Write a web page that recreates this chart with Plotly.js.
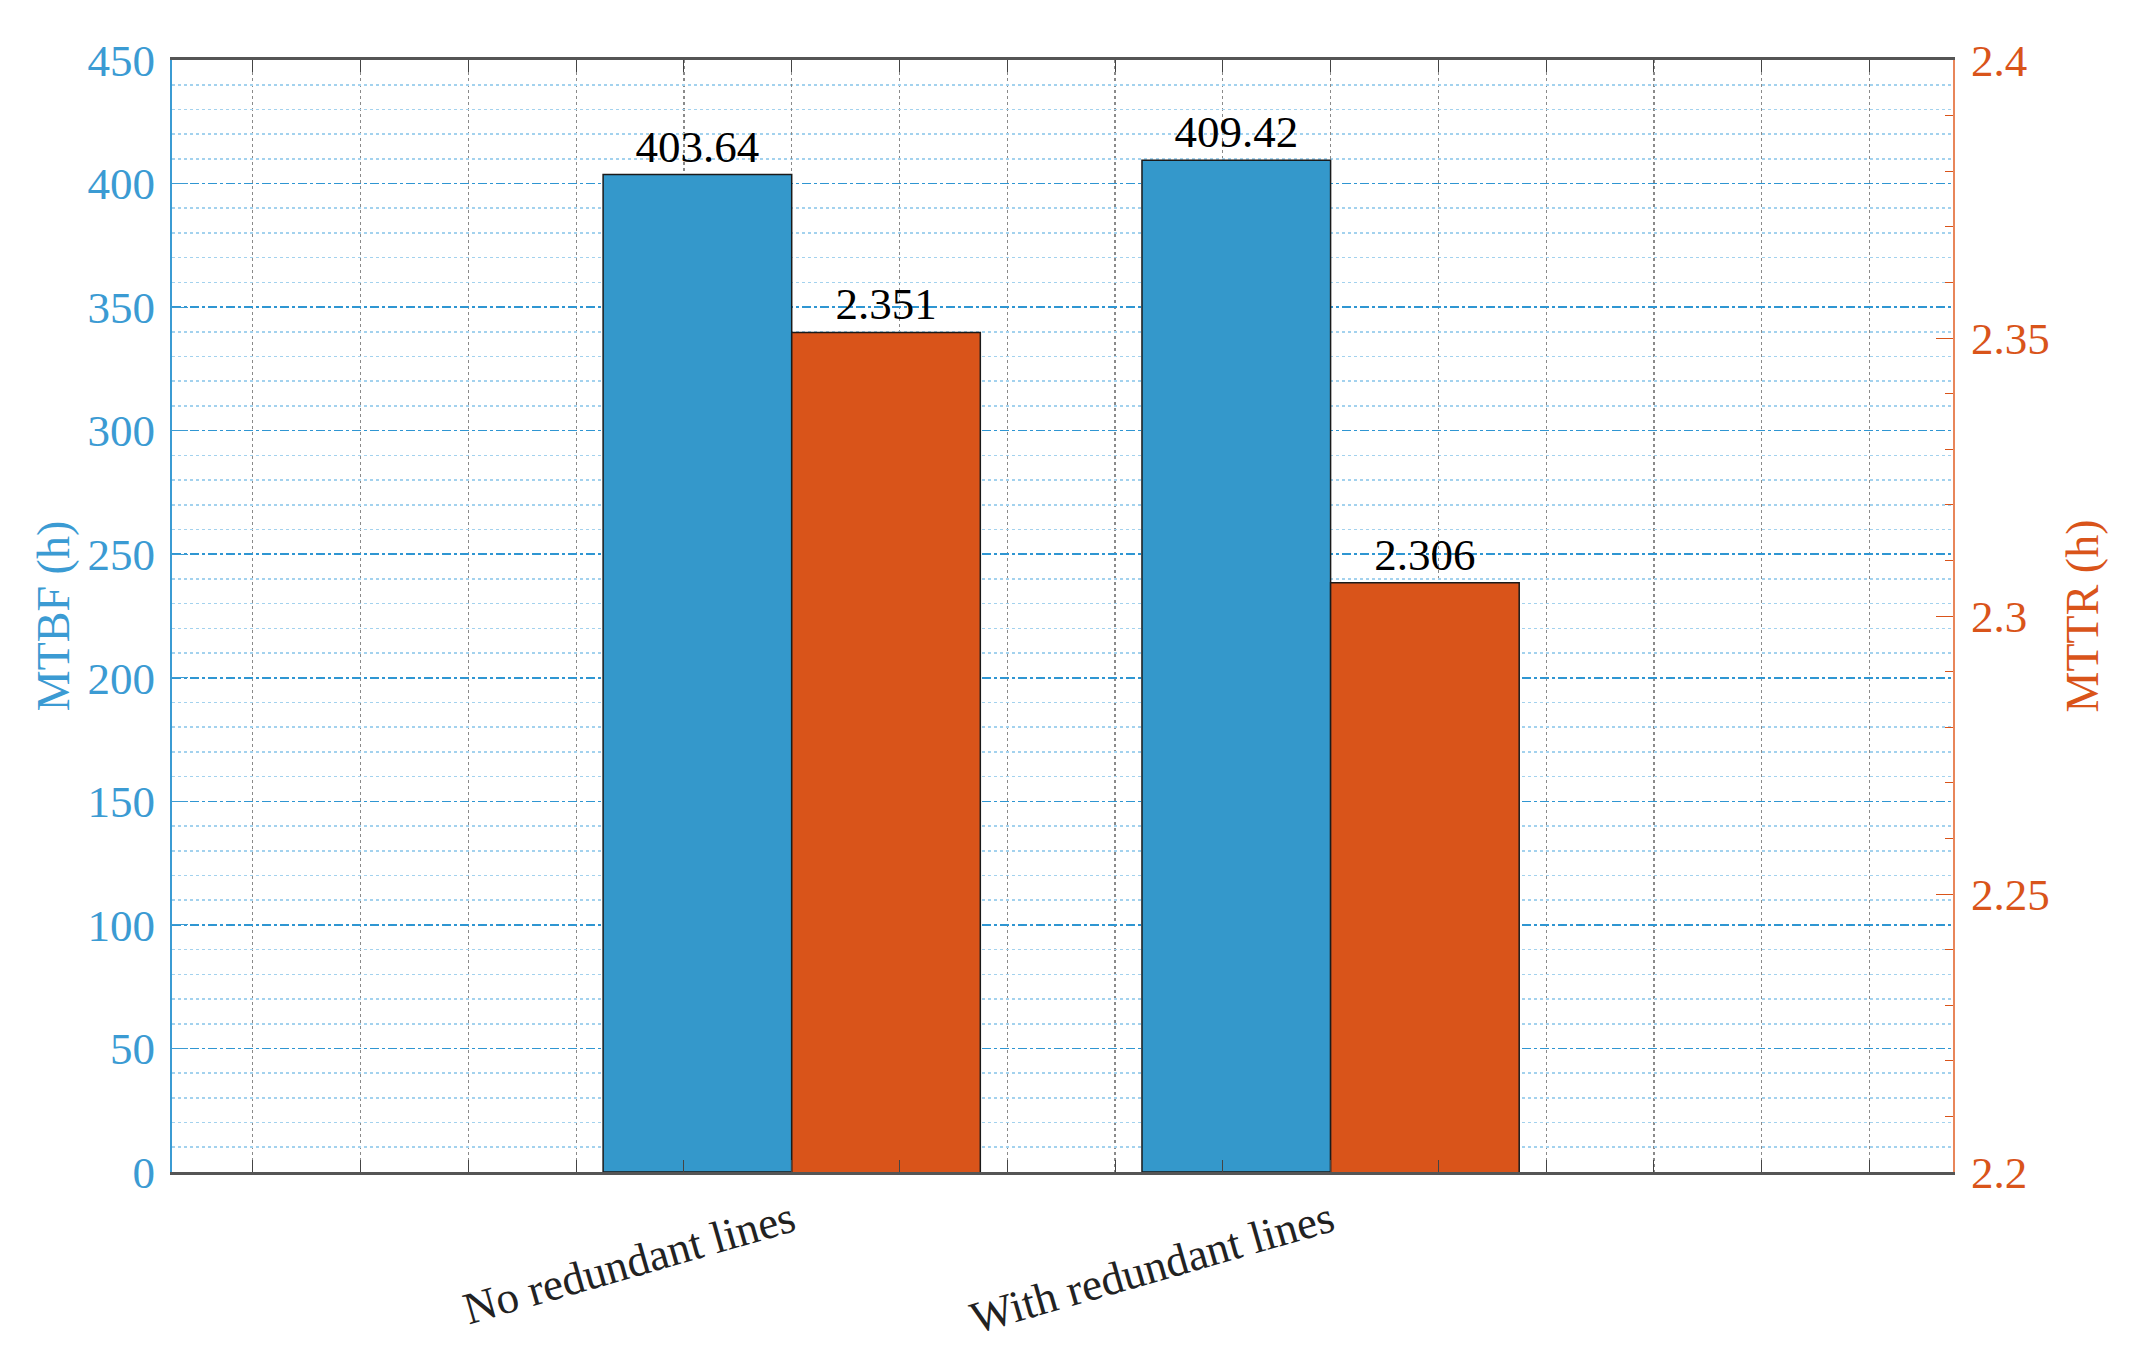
<!DOCTYPE html>
<html>
<head>
<meta charset="utf-8">
<script src="https://cdn.plot.ly/plotly-3.0.1.min.js"></script>
<style>
  html, body { margin: 0; padding: 0; background: #fff; }
  #chart { width: 2153px; height: 1355px; }
</style>
</head>
<body>
<div id="chart"></div>
<script>
// categories and values
var groups = ['No redundant lines', 'With redundant lines']
var groupPos = [1, 2]
var mtbf = [403.64, 409.42]
var mttr = [2.351, 2.306]

var blue = '#3498cb'
var axisBlue = '#3b9bd3'
var orange = '#d9541a'
var serif = '"Liberation Serif", "Times New Roman", serif'

var trace1 = {
    type: 'bar',
    x: groupPos,
    y: mtbf,
    yaxis: 'y',
    width: 0.35,
    offset: -0.35,
    marker: { color: blue, line: { color: '#1a1a1a', width: 1.5 } },
    text: mtbf.map(function(v) { return v.toFixed(2) }),
    textposition: 'outside',
    textfont: { family: serif, size: 45, color: '#000' },
    cliponaxis: false,
    hoverinfo: 'y',
    showlegend: false
}
var trace2 = {
    type: 'bar',
    x: groupPos,
    y: mttr,
    yaxis: 'y2',
    width: 0.35,
    offset: 0,
    marker: { color: orange, line: { color: '#1a1a1a', width: 1.5 } },
    text: mttr.map(function(v) { return v.toFixed(3) }),
    textposition: 'outside',
    textfont: { family: serif, size: 45, color: '#000' },
    cliponaxis: false,
    hoverinfo: 'y',
    showlegend: false
}

var layout = {
    width: 2153,
    height: 1355,
    margin: { l: 172, r: 200, t: 60, b: 183 },
    paper_bgcolor: '#fff',
    plot_bgcolor: '#fff',
    font: { family: serif, size: 44, color: '#000' },
    barmode: 'group',
    xaxis: {
        range: [-0.15, 3.155],
        tickmode: 'array',
        tickvals: groupPos,
        ticktext: groups,
        tickangle: -16,
        tickfont: { family: serif, size: 45, color: '#222' },
        ticks: 'inside',
        ticklen: 12,
        tickcolor: '#444',
        ticklabelstandoff: 2,
        showgrid: true,
        gridcolor: '#8a8a8a',
        griddash: 'dot',
        gridwidth: 1.2,
        minor: {
            tick0: 0,
            dtick: 0.2,
            ticks: 'inside',
            ticklen: 12,
            tickcolor: '#444',
            showgrid: true,
            gridcolor: '#8a8a8a',
            griddash: 'dot',
            gridwidth: 1.2
        },
        showline: true,
        linecolor: '#555',
        linewidth: 3,
        mirror: 'ticks',
        zeroline: false
    },
    yaxis: {
        range: [0, 450],
        dtick: 50,
        tick0: 0,
        ticks: 'inside',
        ticklen: 16,
        tickcolor: axisBlue,
        tickfont: { family: serif, size: 45, color: axisBlue },
        ticklabelstandoff: 6,
        showgrid: true,
        gridcolor: '#2f96d2',
        griddash: 'dashdot',
        gridwidth: 1.6,
        minor: {
            dtick: 10,
            showgrid: true,
            gridcolor: '#a3d2ee',
            griddash: 'dot',
            gridwidth: 1.6
        },
        showline: true,
        linecolor: axisBlue,
        linewidth: 2,
        zeroline: false,
        title: { text: 'MTBF (h)', font: { family: serif, size: 46, color: axisBlue }, standoff: 3 }
    },
    yaxis2: {
        overlaying: 'y',
        side: 'right',
        range: [2.2, 2.4],
        dtick: 0.05,
        tick0: 2.2,
        ticks: 'inside',
        ticklen: 17,
        tickcolor: orange,
        tickfont: { family: serif, size: 45, color: orange },
        ticklabelstandoff: 7,
        showgrid: false,
        minor: { dtick: 0.01, ticks: 'inside', ticklen: 8, tickcolor: orange, showgrid: false },
        showline: true,
        linecolor: '#e8865a',
        linewidth: 2,
        zeroline: false,
        title: { text: 'MTTR (h)', font: { family: serif, size: 46, color: orange }, standoff: 17 }
    }
}

Plotly.newPlot('chart', [trace1, trace2], layout, { displayModeBar: false, staticPlot: true })
</script>
</body>
</html>
